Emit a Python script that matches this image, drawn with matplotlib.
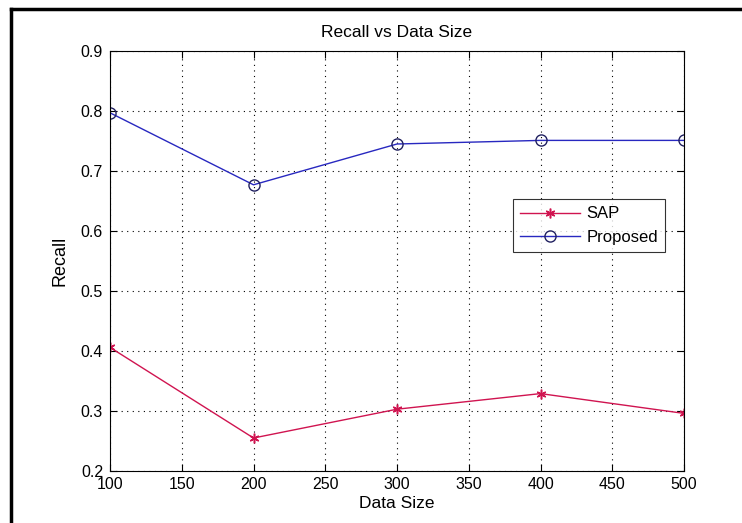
import matplotlib
matplotlib.use('Agg')
import matplotlib.pyplot as plt
from matplotlib.lines import Line2D

# datos
tamanos = [100, 200, 300, 400, 500]
recall_sap = [0.406, 0.255, 0.303, 0.329, 0.296]
recall_propuesto = [0.797, 0.677, 0.745, 0.751, 0.751]

plt.rcParams['font.family'] = ['Liberation Sans', 'DejaVu Sans']

fig = plt.figure(figsize=(7.42, 5.23), dpi=100)
ax = fig.add_axes([110 / 742, 1 - 471 / 523, 574 / 742, 420 / 523])

ax.plot(tamanos, recall_sap, color='#d01450', marker=(6, 2, 0), markersize=7,
        markeredgewidth=1.1, linewidth=1, label='SAP')
ax.plot(tamanos, recall_propuesto, color='#2828c0', marker='o', markersize=8,
        markerfacecolor='none', markeredgecolor='#202060', linewidth=1,
        label='Proposed')

ax.set_xlim(100, 500)
ax.set_ylim(0.2, 0.9)
ax.set_xticks(range(100, 501, 50))
ax.set_yticks([0.2, 0.3, 0.4, 0.5, 0.6, 0.7, 0.8, 0.9])
ax.set_yticklabels(['0.2', '0.3', '0.4', '0.5', '0.6', '0.7', '0.8', '0.9'])
ax.tick_params(direction='in', length=5, labelsize=11.5, top=True, right=True,
               labeltop=False, labelright=False)
ax.tick_params(axis='x', pad=4)
ax.tick_params(axis='y', pad=5)
ax.grid(True, color='black', linestyle=(0, (1, 4)), linewidth=0.8)

for s in ax.spines.values():
    s.set_linewidth(0.8)

ax.set_title('Recall vs Data Size', fontsize=12.5, pad=10)
ax.set_xlabel('Data Size', fontsize=12.5, labelpad=3)
ax.set_ylabel('Recall', fontsize=13, labelpad=9)

leg = ax.legend(loc='upper left', bbox_to_anchor=(0.702, 0.648), fontsize=12,
                frameon=True, fancybox=False, edgecolor='black',
                borderaxespad=0, handlelength=3.6, labelspacing=0.5,
                handletextpad=0.35, borderpad=0.45)
leg.get_frame().set_linewidth(0.8)

# marco negro de la captura (arriba e izquierda)
fig.add_artist(Line2D([11 / 742, 11 / 742], [0, 1 - 9 / 523], color='black',
                      linewidth=2.5, transform=fig.transFigure))
fig.add_artist(Line2D([11 / 742, 1], [1 - 9 / 523, 1 - 9 / 523], color='black',
                      linewidth=2.5, transform=fig.transFigure))

fig.savefig('out.png', dpi=100)
